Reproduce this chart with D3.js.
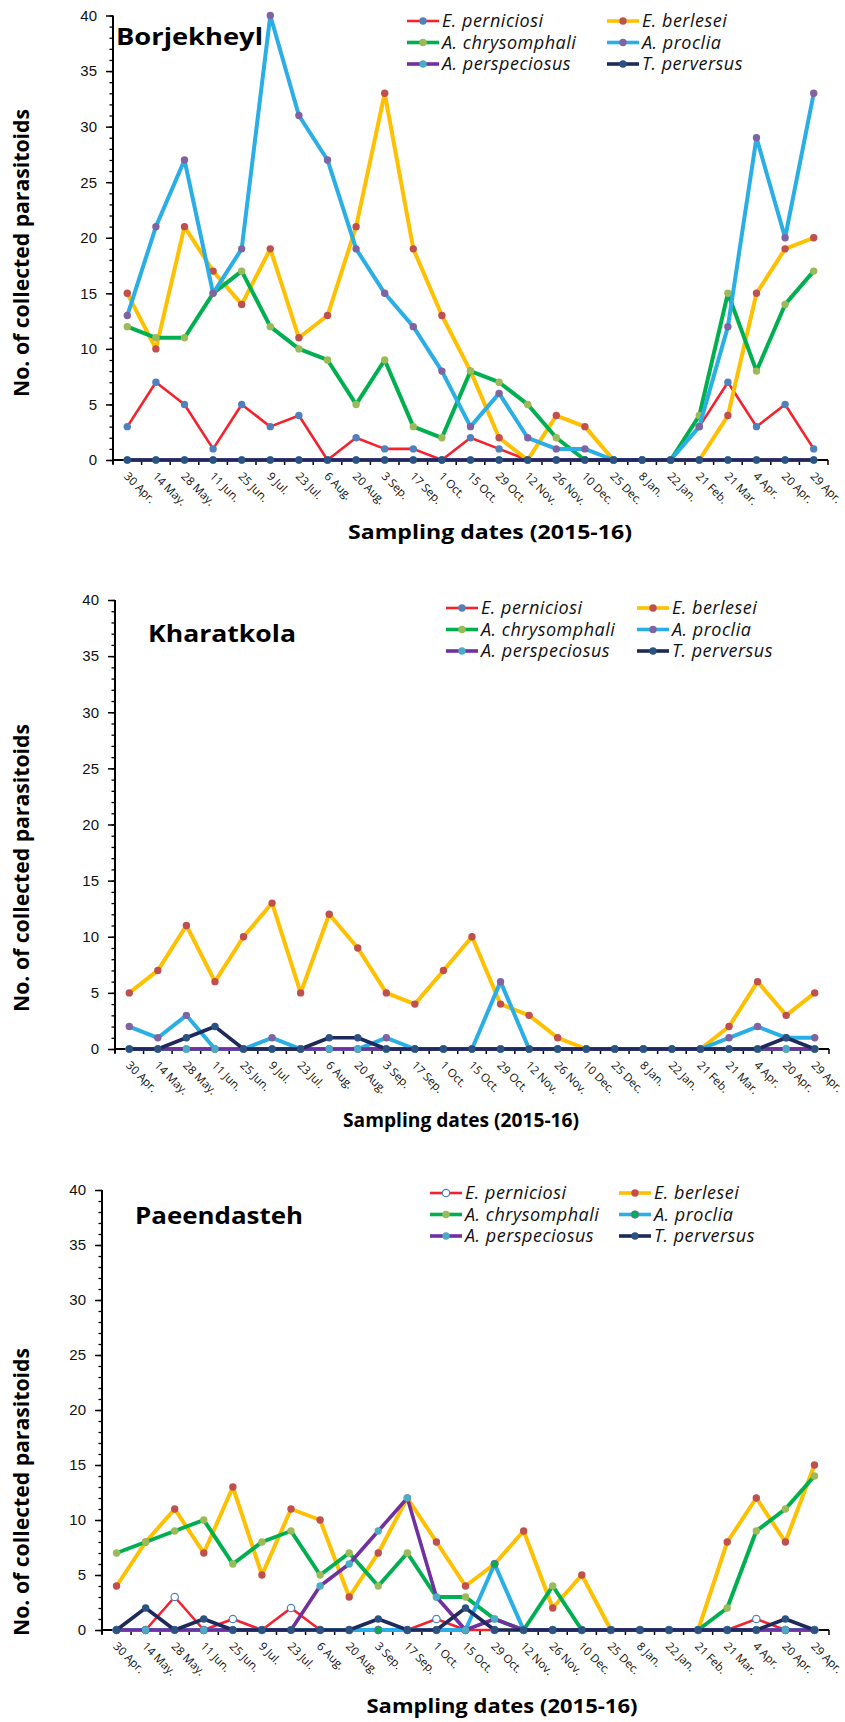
<!DOCTYPE html>
<html>
<head>
<meta charset="utf-8">
<script src="https://cdn.jsdelivr.net/npm/d3@7"></script>
<style>
  body { margin: 0; background: #fff; }
  svg { display: block; font-family: "Open Sans", "Noto Sans", sans-serif; }
</style>
</head>
<body>
<div id="chart"></div>
<script>

// Data

var dates = ["30 Apr.", "14 May.", "28 May.", "11 Jun.", "25 Jun.", "9 Jul.", "23 Jul.", "6 Aug.", "20 Aug.",
             "3 Sep.", "17 Sep.", "1 Oct.", "15 Oct.", "29 Oct.", "12 Nov.", "26 Nov.", "10 Dec.", "25 Dec.",
             "8 Jan.", "22 Jan.", "21 Feb.", "21 Mar.", "4 Apr.", "20 Apr.", "29 Apr."];

var species = ["E. perniciosi", "E. berlesei", "A. chrysomphali", "A. proclia", "A. perspeciosus", "T. perversus"];

var yTicks = [0, 5, 10, 15, 20, 25, 30, 35, 40];

// Borjekheyl
var borjPerniciosi    = [3, 7, 5, 1, 5, 3, 4, 0, 2, 1, 1, 0, 2, 1, 0, 0, 0, 0, 0, 0, 3, 7, 3, 5, 1];
var borjBerlesei      = [15, 10, 21, 17, 14, 19, 11, 13, 21, 33, 19, 13, 8, 2, 0, 4, 3, 0, 0, 0, 0, 4, 15, 19, 20];
var borjChrysomphali  = [12, 11, 11, 15, 17, 12, 10, 9, 5, 9, 3, 2, 8, 7, 5, 2, 0, 0, 0, 0, 4, 15, 8, 14, 17];
var borjProclia       = [13, 21, 27, 15, 19, 40, 31, 27, 19, 15, 12, 8, 3, 6, 2, 1, 1, 0, 0, 0, 3, 12, 29, 20, 33];
var borjPerspeciosus  = [0, 0, 0, 0, 0, 0, 0, 0, 0, 0, 0, 0, 0, 0, 0, 0, 0, 0, 0, 0, 0, 0, 0, 0, 0];
var borjPerversus     = [0, 0, 0, 0, 0, 0, 0, 0, 0, 0, 0, 0, 0, 0, 0, 0, 0, 0, 0, 0, 0, 0, 0, 0, 0];

// Kharatkola
var kharPerniciosi    = [0, 0, 0, 0, 0, 0, 0, 0, 0, 0, 0, 0, 0, 0, 0, 0, 0, 0, 0, 0, 0, 0, 0, 0, 0];
var kharBerlesei      = [5, 7, 11, 6, 10, 13, 5, 12, 9, 5, 4, 7, 10, 4, 3, 1, 0, 0, 0, 0, 0, 2, 6, 3, 5];
var kharChrysomphali  = [0, 0, 0, 0, 0, 0, 0, 0, 0, 0, 0, 0, 0, 0, 0, 0, 0, 0, 0, 0, 0, 0, 0, 0, 0];
var kharProclia       = [2, 1, 3, 0, 0, 1, 0, 0, 0, 1, 0, 0, 0, 6, 0, 0, 0, 0, 0, 0, 0, 1, 2, 1, 1];
var kharPerspeciosus  = [0, 0, 0, 0, 0, 0, 0, 0, 0, 0, 0, 0, 0, 0, 0, 0, 0, 0, 0, 0, 0, 0, 0, 0, 0];
var kharPerversus     = [0, 0, 1, 2, 0, 0, 0, 1, 1, 0, 0, 0, 0, 0, 0, 0, 0, 0, 0, 0, 0, 0, 0, 1, 0];

// Paeendasteh
var paeePerniciosi    = [0, 0, 3, 0, 1, 0, 2, 0, 0, 0, 0, 1, 0, 0, 0, 0, 0, 0, 0, 0, 0, 0, 1, 0, 0];
var paeeBerlesei      = [4, 8, 11, 7, 13, 5, 11, 10, 3, 7, 12, 8, 4, 6, 9, 2, 5, 0, 0, 0, 0, 8, 12, 8, 15];
var paeeChrysomphali  = [7, 8, 9, 10, 6, 8, 9, 5, 7, 4, 7, 3, 3, 1, 0, 4, 0, 0, 0, 0, 0, 2, 9, 11, 14];
var paeeProclia       = [0, 0, 0, 0, 0, 0, 0, 0, 0, 0, 0, 0, 0, 6, 0, 0, 0, 0, 0, 0, 0, 0, 0, 0, 0];
var paeePerspeciosus  = [0, 0, 0, 0, 0, 0, 0, 4, 6, 9, 12, 3, 0, 1, 0, 0, 0, 0, 0, 0, 0, 0, 0, 0, 0];
var paeePerversus     = [0, 2, 0, 1, 0, 0, 0, 0, 0, 1, 0, 0, 2, 0, 0, 0, 0, 0, 0, 0, 0, 0, 0, 1, 0];

// Styles

var lineColors   = ["#f5222d", "#ffc000", "#00b050", "#2aaee6", "#7030a0", "#1f2a5c"];
var markerColors = ["#4f81bd", "#c0504d", "#9bbb59", "#8064a2", "#4bacc6", "#2b5281"];
var lineWidths   = [2.6, 4, 4, 4, 3.6, 3.6];

var width = 845;
var height = 1722;

var svg = d3.select("#chart").append("svg")
    .attr("width", width)
    .attr("height", height);

svg.append("rect")
    .attr("width", width)
    .attr("height", height)
    .attr("fill", "#fff");

// Panels

var panels = [
  {
    name: "Borjekheyl", titleX: 116, titleY: 45, titleW: 147,
    left: 113, right: 828, top: 15.5, bottom: 460,
    legendY: 21, legendCols: [407, 607],
    xTitle: [490, 539, 284], yTitle: [22, 253],
    series: [borjPerniciosi, borjBerlesei, borjChrysomphali, borjProclia, borjPerspeciosus, borjPerversus]
  },
  {
    name: "Kharatkola", titleX: 148, titleY: 642, titleW: 148,
    left: 115, right: 829, top: 600, bottom: 1049,
    legendY: 608, legendCols: [446, 637],
    xTitle: [461, 1127, 236], yTitle: [22, 868],
    series: [kharPerniciosi, kharBerlesei, kharChrysomphali, kharProclia, kharPerspeciosus, kharPerversus]
  },
  {
    name: "Paeendasteh", titleX: 135, titleY: 1224, titleW: 168,
    left: 102, right: 829, top: 1190, bottom: 1630,
    legendY: 1193, legendCols: [430, 619],
    xTitle: [502, 1713, 271], yTitle: [22, 1492],
    hollowFirst: true,
    series: [paeePerniciosi, paeeBerlesei, paeeChrysomphali, paeeProclia, paeePerspeciosus, paeePerversus]
  }
];

function markerStyle(p, i) {
  // Paeendasteh uses a hollow marker for E. perniciosi and a green one for A. proclia
  if (p.hollowFirst && i === 0) return { fill: "#fff", stroke: "#4f81bd", sw: 1.2 };
  if (p.hollowFirst && i === 3) return { fill: "#00b050", stroke: "#8064a2", sw: 1 };
  return { fill: markerColors[i], stroke: "none", sw: 0 };
}

panels.forEach(function(p) {

  var g = svg.append("g");

  var x = d3.scalePoint()
      .domain(dates)
      .range([p.left, p.right])
      .padding(0.5);

  var y = d3.scaleLinear()
      .domain([0, 40])
      .range([p.bottom, p.top]);

  var step = x.step();

  // Y axis: minor ticks, then major ticks with labels

  g.append("g")
      .attr("transform", "translate(" + p.left + ",0)")
      .call(d3.axisLeft(y).ticks(40).tickSize(3.5).tickFormat("").tickSizeOuter(0))
      .call(function(a) { a.select(".domain").remove(); a.selectAll("line").attr("stroke", "#000").attr("stroke-width", 1.3); });

  g.append("g")
      .attr("transform", "translate(" + p.left + ",0)")
      .call(d3.axisLeft(y).tickValues(yTicks).tickSize(7).tickPadding(9).tickSizeOuter(0))
      .call(function(a) {
        a.select(".domain").remove();
        a.selectAll("line").attr("stroke", "#000").attr("stroke-width", 1.5);
        a.selectAll("text").attr("font-size", "15px").attr("fill", "#111");
      });

  g.append("line")
      .attr("x1", p.left).attr("x2", p.left)
      .attr("y1", p.top).attr("y2", p.bottom + 4)
      .attr("stroke", "#000").attr("stroke-width", 2);

  // X axis: ticks at category edges

  g.selectAll(".xtick")
      .data(dates.concat(["end"]))
      .enter().append("line")
      .attr("x1", function(d, i) { return x(dates[0]) - step / 2 + i * step; })
      .attr("x2", function(d, i) { return x(dates[0]) - step / 2 + i * step; })
      .attr("y1", p.bottom)
      .attr("y2", p.bottom + 5)
      .attr("stroke", "#000")
      .attr("stroke-width", 1.5);

  g.append("line")
      .attr("x1", p.left).attr("x2", p.right)
      .attr("y1", p.bottom).attr("y2", p.bottom)
      .attr("stroke", "#000").attr("stroke-width", 2);

  g.selectAll(".xlabel")
      .data(dates)
      .enter().append("text")
      .attr("transform", function(d) { return "translate(" + (x(d) - 4) + "," + (p.bottom + 17) + ") rotate(45)"; })
      .attr("font-size", "11.5px")
      .attr("fill", "#111")
      .text(function(d) { return d; });

  // Series

  var line = d3.line()
      .x(function(d, i) { return x(dates[i]); })
      .y(function(d) { return y(d); });

  p.series.forEach(function(values, i) {
    var ms = markerStyle(p, i);

    g.append("path")
        .attr("d", line(values))
        .attr("fill", "none")
        .attr("stroke", lineColors[i])
        .attr("stroke-width", lineWidths[i])
        .attr("stroke-linejoin", "round");

    g.selectAll(".m" + i)
        .data(values)
        .enter().append("circle")
        .attr("cx", function(d, j) { return x(dates[j]); })
        .attr("cy", function(d) { return y(d); })
        .attr("r", 3.7)
        .attr("fill", ms.fill)
        .attr("stroke", ms.stroke)
        .attr("stroke-width", ms.sw);
  });

  // Titles

  g.append("text")
      .attr("x", p.titleX)
      .attr("y", p.titleY)
      .attr("font-size", "23px")
      .attr("font-weight", "bold")
      .attr("textLength", p.titleW)
      .attr("lengthAdjust", "spacingAndGlyphs")
      .text(p.name);

  g.append("text")
      .attr("x", p.xTitle[0])
      .attr("y", p.xTitle[1])
      .attr("text-anchor", "middle")
      .attr("font-size", "20px")
      .attr("font-weight", "bold")
      .attr("textLength", p.xTitle[2])
      .attr("lengthAdjust", "spacingAndGlyphs")
      .text("Sampling dates (2015-16)");

  g.append("text")
      .attr("transform", "translate(" + (p.yTitle[0] + 7) + "," + p.yTitle[1] + ") rotate(-90)")
      .attr("text-anchor", "middle")
      .attr("font-size", "21px")
      .attr("font-weight", "bold")
      .attr("textLength", 288)
      .attr("lengthAdjust", "spacingAndGlyphs")
      .text("No. of collected parasitoids");

  // Legend

  var legend = g.selectAll(".legend")
      .data(species)
      .enter().append("g")
      .attr("transform", function(d, i) {
        return "translate(" + p.legendCols[i % 2] + "," + (p.legendY + Math.floor(i / 2) * 21.5) + ")";
      });

  legend.append("line")
      .attr("x1", 0).attr("x2", 32)
      .attr("stroke", function(d, i) { return lineColors[i]; })
      .attr("stroke-width", function(d, i) { return Math.min(lineWidths[i], 3.6); });

  legend.append("circle")
      .attr("cx", 16)
      .attr("r", 3.7)
      .attr("fill", function(d, i) { return markerStyle(p, i).fill; })
      .attr("stroke", function(d, i) { return markerStyle(p, i).stroke; })
      .attr("stroke-width", function(d, i) { return markerStyle(p, i).sw; });

  legend.append("text")
      .attr("x", 35)
      .attr("dy", "0.35em")
      .attr("font-size", "18px")
      .attr("letter-spacing", "0.5px")
      .attr("font-style", "italic")
      .attr("fill", "#111")
      .text(function(d) { return d; });
});

</script>
</body>
</html>
